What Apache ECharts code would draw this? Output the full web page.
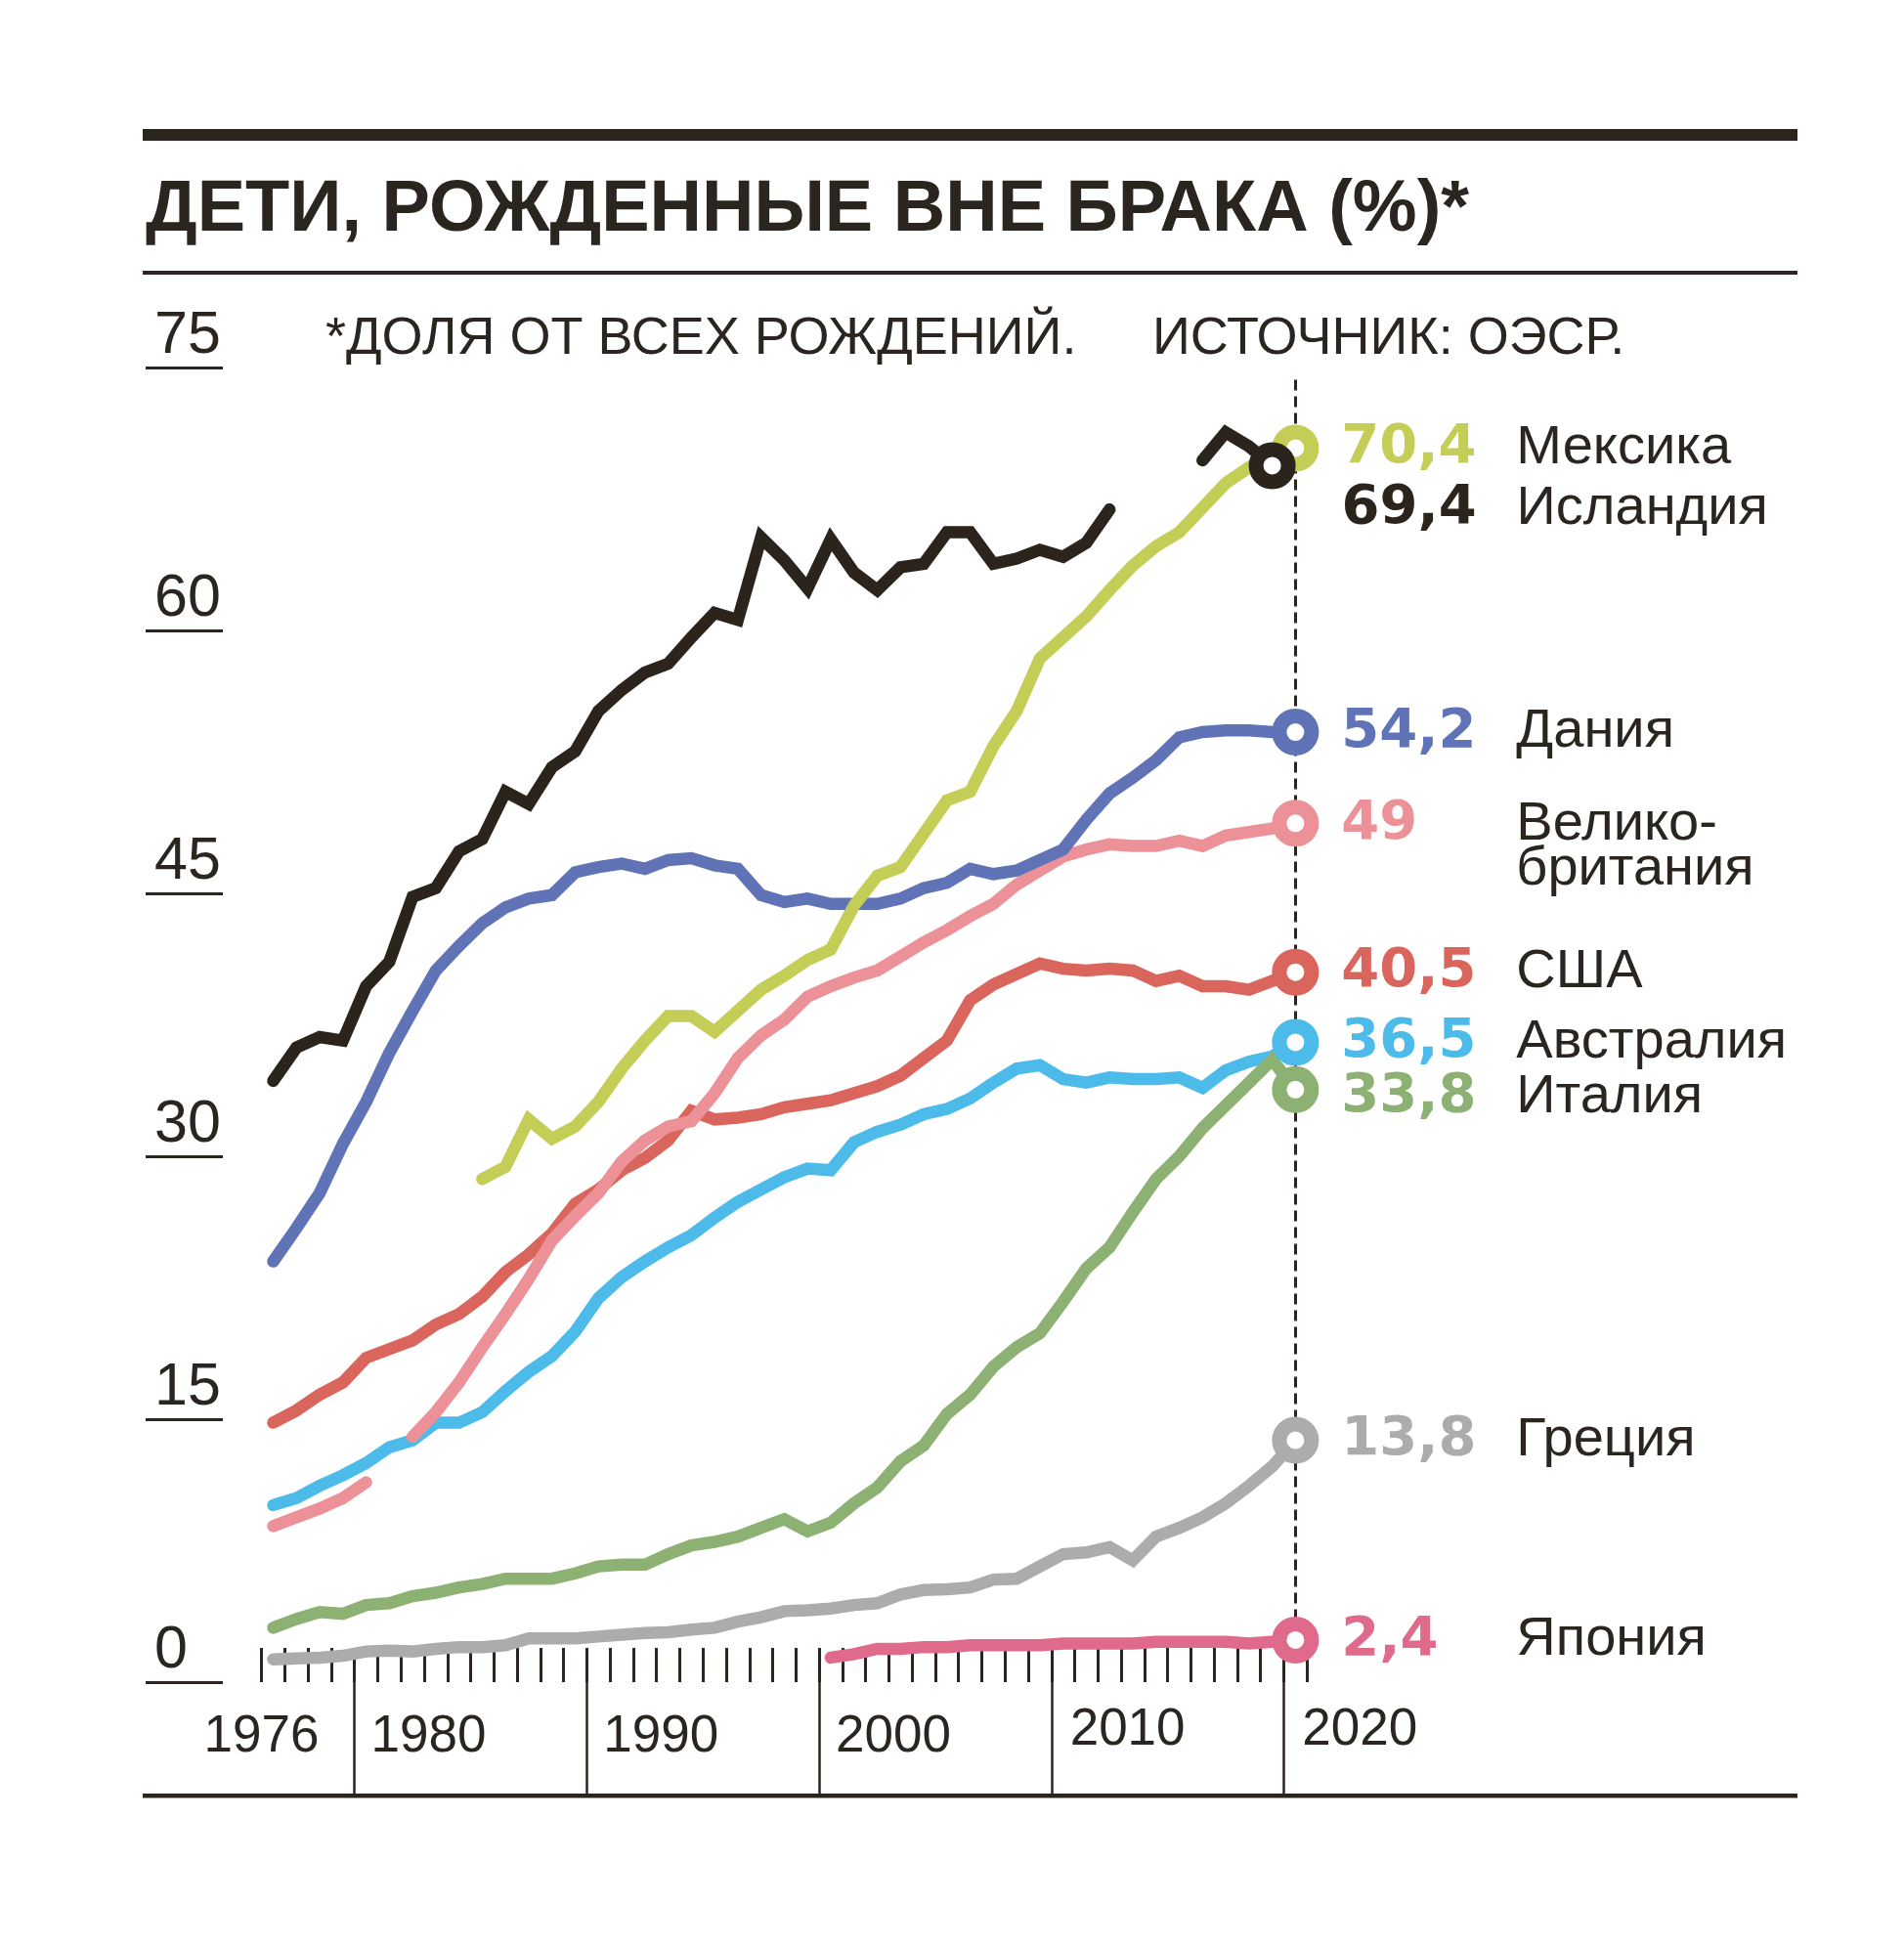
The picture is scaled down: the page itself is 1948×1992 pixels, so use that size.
<!DOCTYPE html>
<html>
<head>
<meta charset="utf-8">
<script src="https://cdn.jsdelivr.net/npm/echarts@6/dist/echarts.min.js"></script>
<style>
html,body{margin:0;padding:0;background:#ffffff;}
#chart{width:1948px;height:1992px;}
</style>
</head>
<body>
<div id="chart"></div>
<script>
// ---------------- DATA ----------------
const years = ['1976','1977','1978','1979','1980','1981','1982','1983','1984','1985',
  '1986','1987','1988','1989','1990','1991','1992','1993','1994','1995',
  '1996','1997','1998','1999','2000','2001','2002','2003','2004','2005',
  '2006','2007','2008','2009','2010','2011','2012','2013','2014','2015',
  '2016','2017','2018','2019','2020'];

const yearTickLabels = ['1976','1980','1990','2000','2010','2020'];
const yTicks = [0, 15, 30, 45, 60, 75];

const iceland = [34.3, 36.2, 36.8, 36.6, 39.7, 41.1, 44.8, 45.3, 47.4, 48.1,
  50.8, 50.1, 52.2, 53.1, 55.4, 56.6, 57.6, 58.1, 59.6, 61.0,
  60.6, 65.3, 64.0, 62.4, 65.2, 63.3, 62.3, 63.6, 63.8, 65.6,
  65.6, 63.8, 64.1, 64.6, 64.2, 65.0, 66.9, null, null, null,
  69.7, 71.3, 70.5, 69.4, null];

const mexico = [null, null, null, null, null, null, null, null, null, 28.7,
  29.4, 32.1, 31.0, 31.7, 33.1, 35.0, 36.6, 38.0, 38.0, 37.1,
  38.3, 39.5, 40.3, 41.2, 41.8, 44.3, 46.0, 46.5, 48.4, 50.3,
  50.8, 53.4, 55.4, 58.4, 59.6, 60.8, 62.3, 63.7, 64.8, 65.6,
  67.0, 68.4, 69.3, 70.0, 70.4];

const denmark = [24.0, 25.9, 27.9, 30.7, 33.1, 35.9, 38.3, 40.6, 42.0, 43.3,
  44.2, 44.7, 44.9, 46.2, 46.5, 46.7, 46.4, 46.9, 47.0, 46.6,
  46.4, 44.9, 44.5, 44.7, 44.4, 44.4, 44.4, 44.7, 45.3, 45.6,
  46.4, 46.1, 46.3, 46.9, 47.5, 49.2, 50.7, 51.6, 52.6, 53.9,
  54.2, 54.3, 54.3, 54.2, 54.2];

const uk = [8.9, 9.4, 9.9, 10.5, 11.4, null, 14.0, 15.4, 17.1, 19.1,
  21.0, 23.0, 25.2, 26.6, 27.9, 29.7, 30.9, 31.7, 32.0, 33.6,
  35.6, 36.9, 37.8, 39.1, 39.7, 40.2, 40.6, 41.4, 42.2, 42.9,
  43.7, 44.4, 45.5, 46.3, 47.1, 47.5, 47.8, 47.7, 47.7, 48.0,
  47.7, 48.3, 48.5, 48.7, 49.0];

const usa = [14.8, 15.5, 16.4, 17.1, 18.5, 19.0, 19.5, 20.4, 21.0, 22.0,
  23.4, 24.4, 25.6, 27.3, 28.1, 29.2, 29.9, 30.9, 32.6, 32.1,
  32.2, 32.4, 32.8, 33.0, 33.2, 33.6, 34.0, 34.6, 35.6, 36.6,
  38.9, 39.8, 40.4, 41.0, 40.7, 40.6, 40.7, 40.6, 40.0, 40.3,
  39.7, 39.7, 39.5, 40.0, 40.5];

const australia = [10.1, 10.5, 11.2, 11.8, 12.5, 13.4, 13.8, 14.8, 14.8, 15.4,
  16.6, 17.7, 18.6, 20.0, 21.9, 23.1, 24.0, 24.8, 25.5, 26.5,
  27.4, 28.1, 28.8, 29.3, 29.2, 30.8, 31.4, 31.8, 32.4, 32.7,
  33.3, 34.2, 35.0, 35.2, 34.4, 34.2, 34.5, 34.4, 34.4, 34.5,
  33.9, 34.9, 35.4, 35.7, 36.5];

const italy = [3.1, 3.6, 4.0, 3.9, 4.4, 4.5, 4.9, 5.1, 5.4, 5.6,
  5.9, 5.9, 5.9, 6.2, 6.6, 6.7, 6.7, 7.3, 7.8, 8.0,
  8.3, 8.8, 9.3, 8.6, 9.1, 10.2, 11.1, 12.6, 13.5, 15.3,
  16.4, 18.0, 19.1, 19.9, 21.7, 23.6, 24.8, 26.8, 28.7, 30.0,
  31.6, 32.9, 34.2, 35.5, 33.8];

const greece = [1.3, 1.35, 1.4, 1.5, 1.75, 1.8, 1.75, 1.9, 2.0, 2.0,
  2.1, 2.5, 2.5, 2.5, 2.6, 2.7, 2.8, 2.85, 3.0, 3.1,
  3.45, 3.7, 4.05, 4.1, 4.2, 4.4, 4.5, 5.0, 5.25, 5.3,
  5.4, 5.85, 5.9, 6.6, 7.3, 7.4, 7.7, 6.95, 8.3, 8.8,
  9.4, 10.2, 11.2, 12.3, 13.8];

const japan = [null, null, null, null, null, null, null, null, null, null,
  null, null, null, null, null, null, null, null, null, null,
  null, null, null, null, 1.4, 1.6, 1.9, 1.9, 2.0, 2.0,
  2.1, 2.1, 2.1, 2.1, 2.2, 2.2, 2.2, 2.2, 2.3, 2.3,
  2.3, 2.3, 2.2, 2.3, 2.4];

// end-of-line markers (order = drawing order, last on top)
const endNames  = ['Греция', 'Япония', 'Италия', 'Австралия', 'США', 'Велико-\nбритания', 'Дания', 'Мексика', 'Исландия'];
const endYears  = ['2020', '2020', '2020', '2020', '2020', '2020', '2020', '2020', '2019'];
const endValues = [13.8, 2.4, 33.8, 36.5, 40.5, 49, 54.2, 70.4, 69.4];

const titleText  = 'ДЕТИ, РОЖДЕННЫЕ ВНЕ БРАКА (%)*';
const noteText   = '*ДОЛЯ ОТ ВСЕХ РОЖДЕНИЙ.';
const sourceText = 'ИСТОЧНИК: ОЭСР.';
const dashTop = 74.3;

// ---------------- STYLE / LAYOUT ----------------
const DARK = '#2b2520';
const colorOf = {
  'Мексика': '#c4cd56', 'Исландия': '#2b241d', 'Дания': '#5f73b6',
  'Велико-\nбритания': '#ec9198', 'США': '#da655d', 'Австралия': '#4cbbea',
  'Италия': '#8cb173', 'Греция': '#acacac', 'Япония': '#e06a8c'
};
const lineSeries = [
  ['Греция', greece], ['Япония', japan], ['Австралия', australia], ['Италия', italy],
  ['США', usa], ['Велико-\nбритания', uk], ['Дания', denmark], ['Мексика', mexico], ['Исландия', iceland]
];
const labelOffset = { 'Исландия': [24, 44], 'Велико-\nбритания': [0, 24], 'Италия': [0, 8] };

const BAND = 23.77;
const PLOT_LEFT = 267.6;
const PLOT_TOP = 376;
const PLOT_H = 1345;
const NFONT = '"Liberation Sans", Arial, Helvetica, sans-serif';
const VFONT = '"DejaVu Sans", Verdana, sans-serif';

function yearStyle(y) {
  if (y === '1976') return { align: 'center', padding: [7, 24, 0, 0] };
  if (y === '2010' || y === '2020') return { align: 'left', padding: [0, 0, 0, 7] };
  return { align: 'left', padding: [7, 0, 0, 5] };
}

const chart = echarts.init(document.getElementById('chart'), null, { renderer: 'canvas' });

const series = [];
lineSeries.forEach(function (pair, i) {
  const s = {
    type: 'line', name: pair[0], xAxisIndex: 0, yAxisIndex: 0,
    data: pair[1], symbol: 'none', connectNulls: false, silent: true, z: 2 + i * 0.01,
    lineStyle: { width: 12.5, color: colorOf[pair[0]], cap: 'round', join: 'miter', opacity: 1 }
  };
  if (i === 0) {
    s.markLine = {
      silent: true, symbol: ['none', 'none'], label: { show: false }, z: 1,
      lineStyle: { type: [11, 6], width: 3, color: DARK, opacity: 1 },
      data: [[{ coord: [endYears[1], dashTop] }, { coord: [endYears[1], endValues[1]] }]]
    };
  }
  series.push(s);
});

series.push({
  type: 'scatter', xAxisIndex: 0, yAxisIndex: 0, z: 10, silent: true,
  symbol: 'circle', symbolSize: 33,
  itemStyle: { opacity: 1 },
  data: endNames.map(function (n, i) {
    const c = colorOf[n];
    const v = String(endValues[i]).replace('.', ',');
    const lines = n.split('\n');
    let txt = '{v|' + v + '}{n|' + lines[0] + '}';
    for (let k = 1; k < lines.length; k++) txt += '\n{v| }{n|' + lines[k] + '}';
    return {
      value: [endYears[i], endValues[i]],
      itemStyle: { color: '#ffffff', borderColor: c, borderWidth: 15, opacity: 1 },
      label: {
        show: true, position: 'right', distance: 23,
        offset: labelOffset[n] || [0, 0],
        formatter: txt,
        rich: {
          v: { fontFamily: VFONT, fontWeight: 'bold', fontSize: 56, color: c, width: 179, lineHeight: 46 },
          n: { fontFamily: NFONT, fontSize: 56, color: DARK, lineHeight: 46 }
        }
      }
    };
  })
});

const option = {
  animation: false,
  backgroundColor: '#ffffff',
  title: [
    { text: titleText, left: 149, top: 179, padding: 0,
      textStyle: { fontFamily: NFONT, fontWeight: 'bold', fontSize: 74, lineHeight: 74, color: DARK } },
    { text: noteText, left: 333, top: 320, padding: 0,
      textStyle: { fontFamily: NFONT, fontWeight: 'normal', fontSize: 54, lineHeight: 54, color: DARK } },
    { text: sourceText, left: 1179, top: 320, padding: 0,
      textStyle: { fontFamily: NFONT, fontWeight: 'normal', fontSize: 54, lineHeight: 54, color: DARK } }
  ],
  graphic: [
    { type: 'rect', shape: { x: 146, y: 132, width: 1693, height: 12 }, style: { fill: DARK }, silent: true },
    { type: 'rect', shape: { x: 146, y: 277, width: 1693, height: 4 }, style: { fill: DARK }, silent: true },
    { type: 'rect', shape: { x: 146, y: 1835, width: 1693, height: 4.5 }, style: { fill: DARK }, silent: true }
  ],
  grid: [
    { left: PLOT_LEFT, top: PLOT_TOP, width: BAND * years.length, height: PLOT_H, containLabel: false },
    { left: PLOT_LEFT + BAND * 4, top: 1691, width: BAND * 40, height: 145, containLabel: false },
    { left: 149, top: PLOT_TOP, width: 79, height: PLOT_H, containLabel: false }
  ],
  xAxis: [
    { gridIndex: 0, type: 'category', boundaryGap: true, offset: 5,
      data: years.map(function (y) { return { value: y, textStyle: yearStyle(y) }; }),
      axisLine: { show: false },
      axisTick: { show: true, interval: 0, inside: true, length: 35, alignWithLabel: false,
        lineStyle: { color: DARK, width: 3 } },
      axisLabel: { show: true, margin: 17, fontFamily: NFONT, fontSize: 53, lineHeight: 54, color: DARK,
        interval: function (idx, val) { return yearTickLabels.indexOf(val) >= 0; } },
      splitLine: { show: false } },
    { gridIndex: 1, type: 'value', min: Number(yearTickLabels[1]), max: Number(yearTickLabels[5]), interval: 10,
      axisLine: { show: false }, axisTick: { show: false }, axisLabel: { show: false },
      splitLine: { show: true, lineStyle: { color: DARK, width: 2.5 } } },
    { gridIndex: 2, type: 'value', show: false }
  ],
  yAxis: [
    { gridIndex: 0, type: 'value', min: yTicks[0], max: yTicks[yTicks.length - 1], interval: yTicks[1] - yTicks[0],
      show: false, splitLine: { show: false } },
    { gridIndex: 1, type: 'value', show: false, splitLine: { show: false } },
    { gridIndex: 2, type: 'value', min: yTicks[0], max: yTicks[yTicks.length - 1], interval: yTicks[1] - yTicks[0],
      axisLine: { show: false }, axisTick: { show: false },
      splitLine: { show: true, lineStyle: { color: DARK, width: 3 } },
      axisLabel: { show: true, inside: true, align: 'left', verticalAlign: 'bottom', margin: 9,
        fontFamily: NFONT, fontSize: 61, lineHeight: 61, padding: [0, 0, 1, 0], color: DARK } }
  ],
  series: series
};

chart.setOption(option);
</script>
</body>
</html>
